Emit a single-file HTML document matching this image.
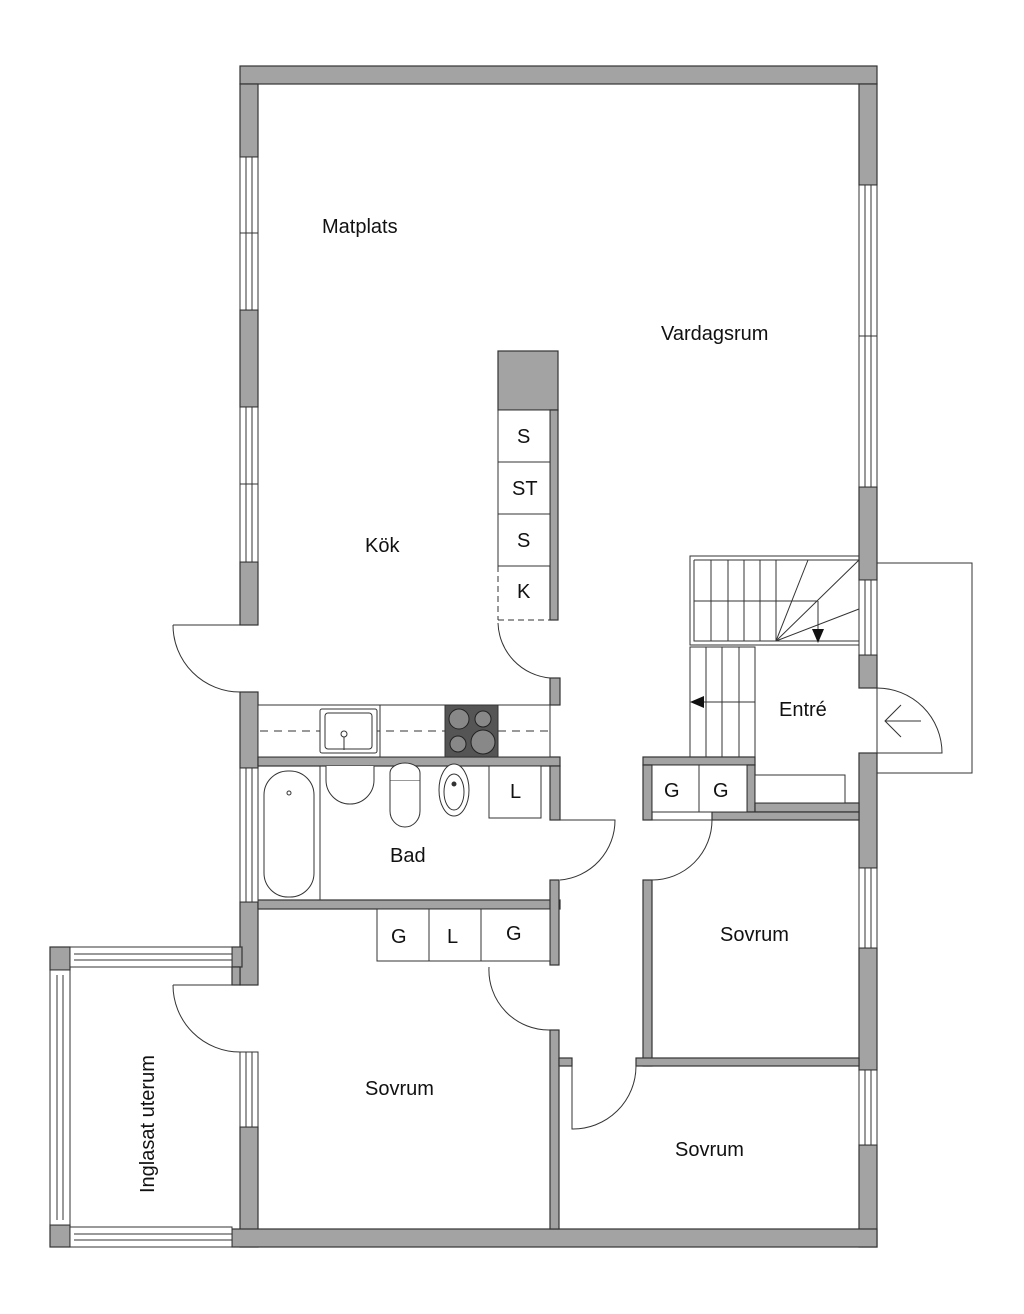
<!DOCTYPE html>
<html><head><meta charset="utf-8"><style>
html,body{margin:0;padding:0;background:#fff;}
svg{display:block}
text{font-family:"Liberation Sans",sans-serif;fill:#111;font-size:20px}
</style></head><body>
<svg width="1024" height="1314" viewBox="0 0 1024 1314" xmlns="http://www.w3.org/2000/svg">
<g fill="#a3a3a3" stroke="#333" stroke-width="1.2">
<rect x="240" y="66" width="637" height="18"/>
<rect x="240" y="84" width="18" height="73"/>
<rect x="240" y="310" width="18" height="97"/>
<rect x="240" y="562" width="18" height="63"/>
<rect x="240" y="692" width="18" height="76"/>
<rect x="240" y="902" width="18" height="83"/>
<rect x="240" y="1127" width="18" height="120"/>
<rect x="859" y="84" width="18" height="101"/>
<rect x="859" y="487" width="18" height="93"/>
<rect x="859" y="655" width="18" height="33"/>
<rect x="859" y="753" width="18" height="115"/>
<rect x="859" y="948" width="18" height="122"/>
<rect x="859" y="1145" width="18" height="102"/>
<rect x="232" y="1229" width="645" height="18"/>
<rect x="50" y="947" width="20" height="23"/>
<rect x="50" y="1225" width="20" height="22"/>
<rect x="232" y="947" width="10" height="20"/>
<rect x="232" y="967" width="8" height="18"/>
<rect x="498" y="351" width="60" height="59"/>
<rect x="550" y="410" width="8" height="210"/>
<rect x="550" y="678" width="10" height="27"/>
<rect x="258" y="757" width="302" height="9"/>
<rect x="550" y="766" width="10" height="54"/>
<rect x="258" y="900" width="302" height="9"/>
<rect x="550" y="880" width="9" height="85"/>
<rect x="550" y="1030" width="9" height="199"/>
<rect x="559" y="1058" width="13" height="8"/>
<rect x="643" y="757" width="112" height="8"/>
<rect x="643" y="765" width="9" height="55"/>
<rect x="747" y="765" width="8" height="47"/>
<rect x="755" y="803" width="104" height="9"/>
<rect x="712" y="812" width="147" height="8"/>
<rect x="643" y="880" width="9" height="186"/>
<rect x="636" y="1058" width="223" height="8"/>
</g>
<g fill="#fff" stroke="#333" stroke-width="1">
<rect x="240" y="157" width="18" height="153"/><line x1="246" y1="157" x2="246" y2="310"/><line x1="252" y1="157" x2="252" y2="310"/><line x1="240" y1="233" x2="258" y2="233"/>
<rect x="240" y="407" width="18" height="155"/><line x1="246" y1="407" x2="246" y2="562"/><line x1="252" y1="407" x2="252" y2="562"/><line x1="240" y1="484" x2="258" y2="484"/>
<rect x="240" y="768" width="18" height="134"/><line x1="246" y1="768" x2="246" y2="902"/><line x1="252" y1="768" x2="252" y2="902"/>
<rect x="240" y="1052" width="18" height="75"/><line x1="246" y1="1052" x2="246" y2="1127"/><line x1="252" y1="1052" x2="252" y2="1127"/>
<rect x="859" y="185" width="18" height="302"/><line x1="865" y1="185" x2="865" y2="487"/><line x1="871" y1="185" x2="871" y2="487"/><line x1="859" y1="336" x2="877" y2="336"/>
<rect x="859" y="580" width="18" height="75"/><line x1="865" y1="580" x2="865" y2="655"/><line x1="871" y1="580" x2="871" y2="655"/>
<rect x="859" y="868" width="18" height="80"/><line x1="865" y1="868" x2="865" y2="948"/><line x1="871" y1="868" x2="871" y2="948"/>
<rect x="859" y="1070" width="18" height="75"/><line x1="865" y1="1070" x2="865" y2="1145"/><line x1="871" y1="1070" x2="871" y2="1145"/>
<rect x="70" y="947" width="162" height="20"/><line x1="74" y1="954" x2="232" y2="954"/><line x1="74" y1="960" x2="232" y2="960"/>
<rect x="70" y="1227" width="162" height="20"/><line x1="74" y1="1234" x2="232" y2="1234"/><line x1="74" y1="1240" x2="232" y2="1240"/>
<rect x="50" y="970" width="20" height="255"/><line x1="57" y1="975" x2="57" y2="1220"/><line x1="63" y1="975" x2="63" y2="1220"/>
<rect x="498" y="410" width="52" height="52"/>
<rect x="498" y="462" width="52" height="52"/>
<rect x="498" y="514" width="52" height="52"/>
<line x1="498" y1="620" x2="550" y2="620" stroke-dasharray="6,4"/>
<line x1="498" y1="566" x2="498" y2="620" stroke-dasharray="6,4"/>
<rect x="258" y="705" width="292" height="52"/>
<line x1="380" y1="705" x2="380" y2="757"/>
<line x1="260" y1="731" x2="548" y2="731" stroke-dasharray="8,6"/>
<rect x="320" y="709" width="57" height="44" rx="2"/><rect x="325" y="713" width="47" height="36" rx="3"/>
<circle cx="344" cy="734" r="3"/><line x1="344" y1="737" x2="344" y2="750"/>
<rect x="445" y="705" width="53" height="52" fill="#555"/>
<g fill="#888" stroke="#222"><circle cx="459" cy="719" r="10"/><circle cx="483" cy="719" r="8"/><circle cx="458" cy="744" r="8"/><circle cx="483" cy="742" r="12"/></g>
<line x1="320" y1="766" x2="320" y2="900"/>
<rect x="264" y="771" width="50" height="126" rx="24"/>
<circle cx="289" cy="793" r="2"/>
<path d="M326 766 v14 a24 24 0 0 0 48 0 v-14"/>
<path d="M390 773 a12 8 0 0 1 30 0 v8 h-30z"/><path d="M390 781 v30 a15 16 0 0 0 30 0 v-30"/>
<ellipse cx="454" cy="790" rx="15" ry="26"/><ellipse cx="454" cy="792" rx="10" ry="18"/><circle cx="454" cy="784" r="2" fill="#333"/>
<rect x="489" y="766" width="52" height="52"/><line x1="541" y1="766" x2="541" y2="818"/>
<rect x="377" y="909" width="52" height="52"/><rect x="429" y="909" width="52" height="52"/><rect x="481" y="909" width="69" height="52"/>
<rect x="652" y="765" width="47" height="47"/><rect x="699" y="765" width="48" height="47"/>
<rect x="755" y="775" width="90" height="28"/>
<rect x="690" y="556" width="169" height="89" fill="none"/>
<path d="M694 560 H859 M694 560 V641 H776" fill="none"/>
<line x1="694" y1="601" x2="818" y2="601"/>
<line x1="711" y1="560" x2="711" y2="641"/><line x1="728" y1="560" x2="728" y2="641"/><line x1="744" y1="560" x2="744" y2="641"/><line x1="760" y1="560" x2="760" y2="641"/><line x1="776" y1="560" x2="776" y2="641"/>
<line x1="776" y1="641" x2="808" y2="560"/><line x1="776" y1="641" x2="859" y2="560"/><line x1="776" y1="641" x2="859" y2="609"/>
<line x1="776" y1="641" x2="859" y2="641"/>
<line x1="818" y1="601" x2="818" y2="630"/>
<rect x="690" y="647" width="65" height="110" fill="none"/>
<line x1="706" y1="647" x2="706" y2="757"/><line x1="722" y1="647" x2="722" y2="757"/><line x1="739" y1="647" x2="739" y2="757"/>
<line x1="700" y1="702" x2="755" y2="702"/>
<path d="M877 563 H972 V773 H877" fill="none"/>
<line x1="877" y1="688" x2="877" y2="753"/>
</g>
<polygon points="812,629 824,629 818,643" fill="#111"/>
<polygon points="690,702 704,696 704,708" fill="#111"/>
<g fill="none" stroke="#333" stroke-width="1">
<path d="M173 625 H240 M173 625 A67 67 0 0 0 240 692"/>
<path d="M498 623 A57 57 0 0 0 550 678"/>
<path d="M560 820 H615 A60 60 0 0 1 560 880"/>
<path d="M652 820 H712 A60 60 0 0 1 652 880"/>
<path d="M489 967 A60 60 0 0 0 550 1030"/>
<path d="M173 985 H240 M173 985 A67 67 0 0 0 240 1052"/>
<path d="M572 1066 V1129 A63 63 0 0 0 636 1066"/>
<path d="M877 688 A65 65 0 0 1 942 753 H877"/>
<path d="M901 705 L885 721 L901 737 M885 721 H921"/>
</g>
<text x="322" y="233">Matplats</text>
<text x="661" y="340">Vardagsrum</text>
<text x="365" y="552">Kök</text>
<text x="517" y="443">S</text>
<text x="512" y="495">ST</text>
<text x="517" y="547">S</text>
<text x="517" y="598">K</text>
<text x="510" y="798">L</text>
<text x="390" y="862">Bad</text>
<text x="779" y="716">Entré</text>
<text x="664" y="797">G</text>
<text x="713" y="797">G</text>
<text x="391" y="943">G</text>
<text x="447" y="943">L</text>
<text x="506" y="940">G</text>
<text x="720" y="941">Sovrum</text>
<text x="365" y="1095">Sovrum</text>
<text x="675" y="1156">Sovrum</text>
<text transform="translate(154 1193) rotate(-90)">Inglasat uterum</text>
</svg>
</body></html>
